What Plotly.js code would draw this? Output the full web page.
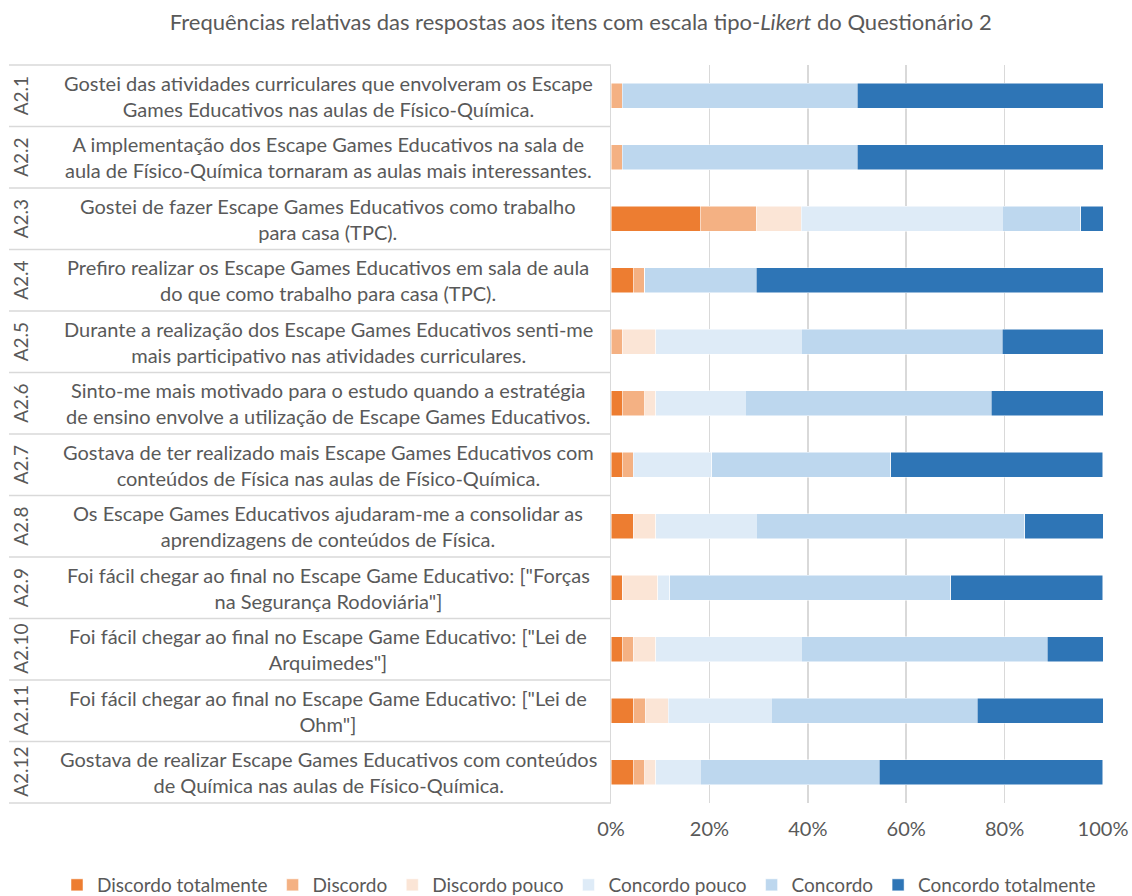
<!DOCTYPE html>
<html>
<head>
<meta charset="utf-8">
<script src="https://cdn.plot.ly/plotly-3.0.1.min.js"></script>
<style>html,body{margin:0;padding:0;background:#fff;}#chart{width:1132px;height:896px;}</style>
</head>
<body>
<div id="chart"></div>
<script>
// Item codes and statements
const codes = ["A2.1","A2.2","A2.3","A2.4","A2.5","A2.6","A2.7","A2.8","A2.9","A2.10","A2.11","A2.12"];
const statements = [
  "Gostei das atividades curriculares que envolveram os Escape<br>Games Educativos nas aulas de Físico-Química.",
  "A implementação dos Escape Games Educativos na sala de<br>aula de Físico-Química tornaram as aulas mais interessantes.",
  "Gostei de fazer Escape Games Educativos como trabalho<br>para casa (TPC).",
  "Prefiro realizar os Escape Games Educativos em sala de aula<br>do que como trabalho para casa (TPC).",
  "Durante a realização dos Escape Games Educativos senti-me<br>mais participativo nas atividades curriculares.",
  "Sinto-me mais motivado para o estudo quando a estratégia<br>de ensino envolve a utilização de Escape Games Educativos.",
  "Gostava de ter realizado mais Escape Games Educativos com<br>conteúdos de Física nas aulas de Físico-Química.",
  "Os Escape Games Educativos ajudaram-me a consolidar as<br>aprendizagens de conteúdos de Física.",
  "Foi fácil chegar ao final no Escape Game Educativo: [\"Forças<br>na Segurança Rodoviária\"]",
  "Foi fácil chegar ao final no Escape Game Educativo: [\"Lei de<br>Arquimedes\"]",
  "Foi fácil chegar ao final no Escape Game Educativo: [\"Lei de<br>Ohm\"]",
  "Gostava de realizar Escape Games Educativos com conteúdos<br>de Química nas aulas de Físico-Química."
];

// Series names
const seriesNames = ["Discordo totalmente","Discordo","Discordo pouco","Concordo pouco","Concordo","Concordo totalmente"];

// Relative frequencies (%)
const discordoTotalmente = [0, 0, 18.18, 4.55, 0, 2.27, 2.27, 4.55, 2.38, 2.27, 4.65, 4.55];
const discordo           = [2.27, 2.27, 11.36, 2.27, 2.27, 4.55, 2.27, 0, 0, 2.27, 2.33, 2.27];
const discordoPouco      = [0, 0, 9.09, 0, 6.82, 2.27, 0, 4.55, 7.14, 4.55, 4.65, 2.27];
const concordoPouco      = [0, 0, 40.91, 0, 29.55, 18.18, 15.91, 20.45, 2.38, 29.55, 20.93, 9.09];
const concordo           = [47.73, 47.73, 15.91, 22.73, 40.91, 50.00, 36.36, 54.55, 57.14, 50.00, 41.86, 36.36];
const concordoTotalmente = [50.00, 50.00, 4.55, 70.45, 20.45, 22.73, 43.18, 15.91, 30.95, 11.36, 25.58, 45.45];

// X tick values
const tickVals = [0, 20, 40, 60, 80, 100];

const seriesValues = [discordoTotalmente, discordo, discordoPouco, concordoPouco, concordo, concordoTotalmente];
const colors = ["#ED7D31","#F4B183","#FBE5D6","#DEEBF7","#BDD7EE","#2E75B6"];

const FONT = "Lato, 'Open Sans', sans-serif";
const GREY = "#595959";

const traces = seriesValues.map((vals, i) => ({
  type: "bar",
  orientation: "h",
  name: seriesNames[i],
  x: vals,
  y: codes,
  width: 0.4,
  marker: {color: colors[i], line: {color: "#FFFFFF", width: 0.5}},
  hoverinfo: "name+x"
}));

const n = codes.length;
const annotations = [];
const shapes = [];
codes.forEach((c, i) => {
  const yc = 1 - (i + 0.5) / n;
  annotations.push({
    xref: "paper", yref: "paper", x: -1.20, y: yc,
    text: c, textangle: -90, showarrow: false,
    xanchor: "center", yanchor: "middle",
    font: {family: FONT, size: 19, color: GREY}
  });
  annotations.push({
    xref: "paper", yref: "paper", x: -0.575, y: yc,
    text: statements[i], showarrow: false, align: "center",
    xanchor: "center", yanchor: "middle",
    font: {family: FONT, size: 20, color: GREY}
  });
});
for (let j = 0; j <= n; j++) {
  shapes.push({
    type: "line", xref: "paper", yref: "paper",
    x0: -1.2236, x1: 0, y0: j / n, y1: j / n,
    line: {color: "#D9D9D9", width: 1.5}
  });
}

const layout = {
  width: 1132, height: 896,
  paper_bgcolor: "#FFFFFF", plot_bgcolor: "#FFFFFF",
  margin: {l: 611, r: 29, t: 65, b: 93, autoexpand: false},
  font: {family: FONT, color: GREY},
  title: {
    text: "Frequências relativas das respostas aos itens com escala tipo-<i>Likert</i> do Questionário 2",
    font: {family: FONT, size: 22, color: GREY},
    xref: "container", x: 0.513, xanchor: "center",
    yref: "container", y: 1 - 22 / 896, yanchor: "middle"
  },
  barmode: "stack",
  xaxis: {
    range: [0, 100], tickvals: tickVals, ticktext: tickVals.map(v => v + "%"),
    showgrid: true, gridcolor: "#D9D9D9", gridwidth: 1.5,
    zeroline: false, showline: false, ticks: "",
    ticklabelstandoff: 12,
    tickfont: {family: FONT, size: 20, color: GREY},
    fixedrange: true
  },
  yaxis: {
    type: "category", range: [n - 0.5, -0.5],
    showticklabels: false, ticks: "", showgrid: false, zeroline: false,
    showline: true, linecolor: "#D9D9D9", linewidth: 1.5,
    fixedrange: true
  },
  showlegend: true,
  legend: {
    orientation: "h", traceorder: "normal",
    x: (57 - 611) / 492, xanchor: "left", xref: "paper",
    y: (803 - 885) / 738, yanchor: "middle", yref: "paper",
    font: {family: FONT, size: 19, color: GREY},
    itemwidth: 30
  },
  annotations: annotations,
  shapes: shapes
};

Plotly.newPlot("chart", traces, layout, {displayModeBar: false, staticPlot: true});
</script>
</body>
</html>
